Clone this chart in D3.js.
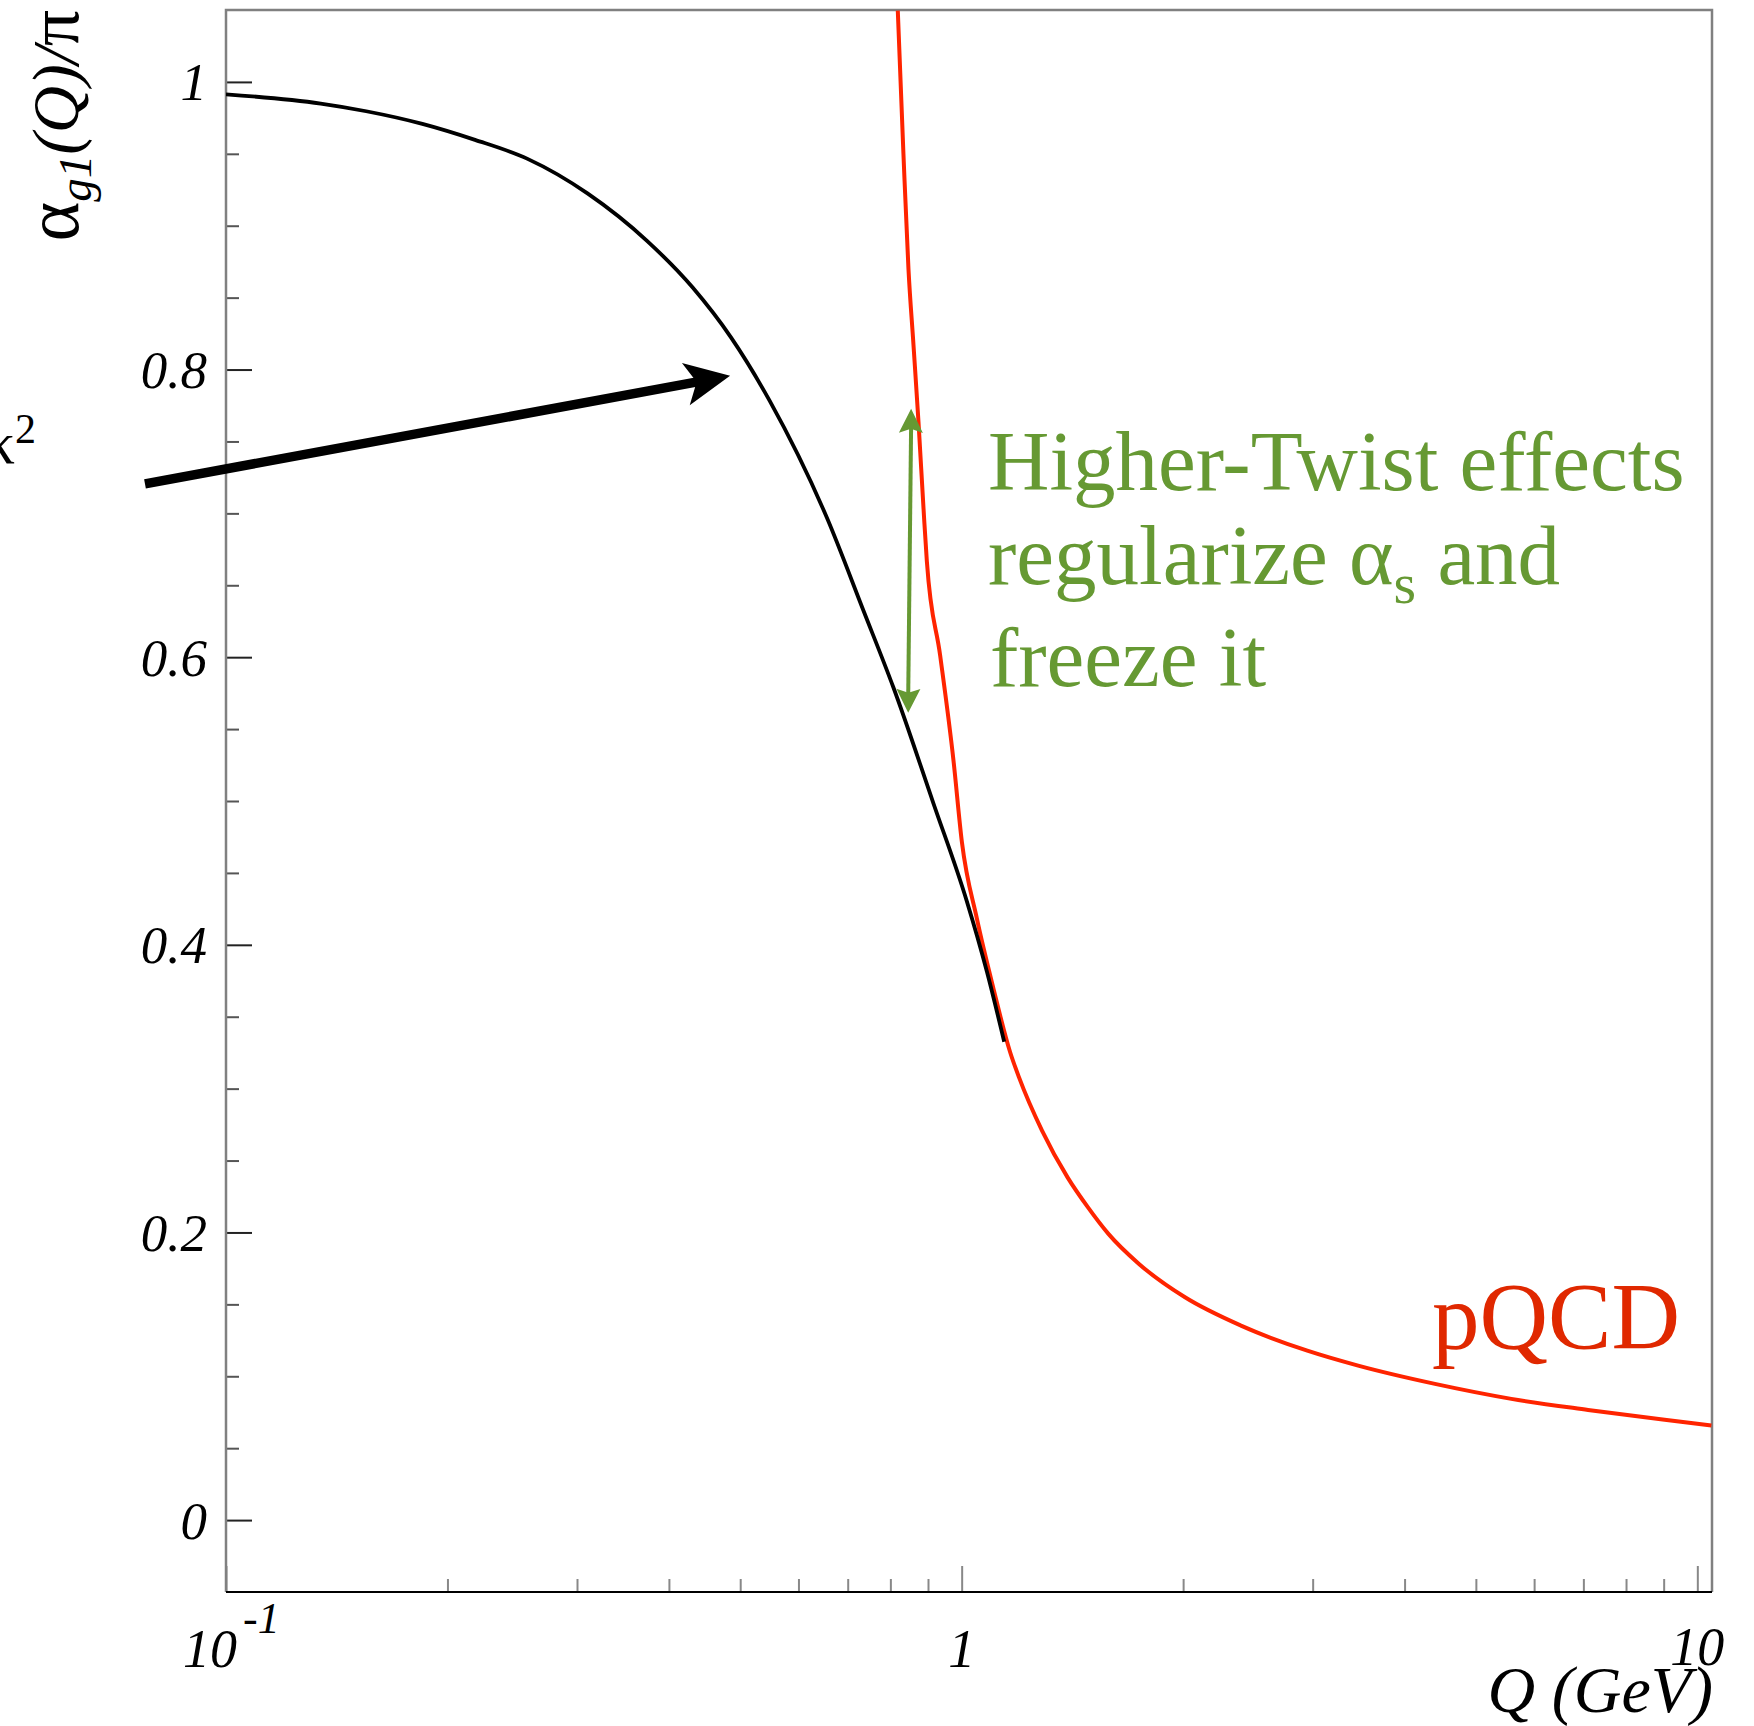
<!DOCTYPE html>
<html>
<head>
<meta charset="utf-8">
<script src="https://cdn.jsdelivr.net/npm/d3@7"></script>
<style>
body { margin: 0; background: #fff; }
svg { display: block; }
text { font-family: "Liberation Serif", "Times New Roman", serif; }
</style>
</head>
<body>
<div id="chart"></div>
<script>
// coupling: black = alpha_g1/pi, red = pQCD
var blackQ = [0.1, 0.1345, 0.1551, 0.1849, 0.218, 0.257, 0.310, 0.3735, 0.4309, 0.486, 0.5484, 0.6557, 0.7355, 0.8077, 0.9154, 1.0164, 1.0821, 1.1424]
var blackV = [0.9914, 0.9849, 0.9796, 0.9708, 0.9597, 0.9465, 0.9225, 0.8895, 0.857, 0.8222, 0.7782, 0.6971, 0.6323, 0.5789, 0.4984, 0.4302, 0.3814, 0.3326]

var redQ = [0.8188, 0.8334, 0.8466, 0.860, 0.8736, 0.889, 0.8968, 0.935, 0.9748, 1.0006, 1.0489, 1.1047, 1.1639, 1.1967, 1.286, 1.393, 1.485, 1.583, 1.742, 2.012, 2.397, 2.95, 3.459, 4.399, 5.587, 7.104, 9.028, 10.45]
var redV = [1.0496, 0.95, 0.87, 0.8172, 0.7636, 0.6969, 0.6667, 0.601, 0.528, 0.4717, 0.4181, 0.3695, 0.3253, 0.3078, 0.2708, 0.2383, 0.2174, 0.199, 0.1781, 0.1549, 0.1352, 0.1178, 0.1074, 0.0947, 0.0843, 0.0766, 0.0697, 0.0657]

var yTicks = [0, 0.2, 0.4, 0.6, 0.8, 1]
var yTickLabels = ["0", "0.2", "0.4", "0.6", "0.8", "1"]
var xTicks = [0.1, 1, 10]
var xTickLabels = ["10", "1", "10"]
var xTickExps = ["-1", "", ""]

var width = 1754, height = 1726
var margin = {top: 10, left: 226, right: 42, bottom: 134}
var chartWidth = width - margin.left - margin.right
var chartHeight = height - margin.top - margin.bottom

var green = "#669933"

var svg = d3.select("#chart").append("svg")
  .attr("width", width)
  .attr("height", height)

var x = d3.scaleLog().domain([0.1, 10.47]).range([0, chartWidth])
var y = d3.scaleLinear().domain([-0.05, 1.05]).range([chartHeight, 0])

var g = svg.append("g")
  .attr("transform", "translate(" + [margin.left, margin.top] + ")")

g.append("clipPath").attr("id", "clip")
  .append("rect").attr("width", chartWidth).attr("height", chartHeight)

// minor ticks
var yMinor = d3.range(-0.05, 1.051, 0.05).filter(function(v) {
  return v > -0.04 && v < 1.04 && Math.abs(v * 5 - Math.round(v * 5)) > 0.01
})
g.append("g")
  .call(d3.axisLeft(y).tickValues(yMinor).tickSize(-13).tickFormat(""))
  .call(function(s) { s.select(".domain").remove(); s.selectAll("line").attr("stroke", "#555").attr("stroke-width", 2) })

g.append("g")
  .call(d3.axisLeft(y).tickValues(yTicks).tickSize(-26).tickPadding(19)
    .tickFormat(function(d, i) { return yTickLabels[i] }))
  .call(function(s) {
    s.select(".domain").remove()
    s.selectAll("line").attr("stroke", "#222").attr("stroke-width", 2)
    s.selectAll("text").attr("font-family", "'Liberation Serif', serif")
      .attr("font-style", "italic").attr("font-size", 53).attr("fill", "#000")
      .attr("dy", "0.34em")
  })

var xMinor = []
;[0.1, 1].forEach(function(dec) {
  for (var k = 2; k <= 9; k++) xMinor.push(dec * k)
})
g.append("g")
  .attr("transform", "translate(0," + chartHeight + ")")
  .call(d3.axisBottom(x).tickValues(xMinor).tickSize(-13).tickFormat(""))
  .call(function(s) { s.select(".domain").remove(); s.selectAll("line").attr("stroke", "#888").attr("stroke-width", 2) })

g.append("g")
  .attr("transform", "translate(0," + chartHeight + ")")
  .call(d3.axisBottom(x).tickValues(xTicks).tickSize(-26).tickFormat(""))
  .call(function(s) { s.select(".domain").remove(); s.selectAll("line").attr("stroke", "#888").attr("stroke-width", 2) })

// x tick labels
xTicks.forEach(function(v, i) {
  var t = g.append("text")
    .attr("y", chartHeight + 75)
    .attr("font-style", "italic")
    .attr("font-size", 54)
  if (xTickExps[i]) {
    t.attr("x", x(v) - 43).attr("text-anchor", "start").text(xTickLabels[i])
    t.append("tspan").attr("dx", 6).attr("dy", -34).attr("font-size", 44).text(xTickExps[i])
  } else {
    t.attr("x", x(v)).attr("text-anchor", "middle").text(xTickLabels[i])
    if (v == 10) t.attr("y", chartHeight + 73)
  }
})

// frame
g.append("path")
  .attr("d", "M0," + chartHeight + "V0H" + chartWidth + "V" + chartHeight)
  .attr("fill", "none").attr("stroke", "#808080").attr("stroke-width", 2.5)
g.append("line")
  .attr("x1", 0).attr("x2", chartWidth).attr("y1", chartHeight).attr("y2", chartHeight)
  .attr("stroke", "#000").attr("stroke-width", 2)

// curves
var line = d3.line()
  .x(function(d) { return x(d[0]) })
  .y(function(d) { return y(d[1]) })
  .curve(d3.curveMonotoneX)

var plot = g.append("g").attr("clip-path", "url(#clip)")

plot.append("path")
  .datum(d3.zip(redQ, redV))
  .attr("d", line)
  .attr("fill", "none").attr("stroke", "#ff2400").attr("stroke-width", 4)

plot.append("path")
  .datum(d3.zip(blackQ, blackV))
  .attr("d", line)
  .attr("fill", "none").attr("stroke", "#000").attr("stroke-width", 3.8)

// black arrow pointing at the curve
function arrowHead(p0, p1, len, half, notch) {
  var dx = p1[0] - p0[0], dy = p1[1] - p0[1]
  var n = Math.sqrt(dx * dx + dy * dy)
  var ux = dx / n, uy = dy / n, px = -uy, py = ux
  function pt(u, w) { return [p1[0] + u * ux + w * px, p1[1] + u * uy + w * py] }
  var pts = [pt(0, 0), pt(-len, half), pt(-notch, 0), pt(-len, -half)]
  return "M" + pts.join("L") + "Z"
}

var a0 = [x(0.0776), y(0.7205)], a1 = [x(0.4844), y(0.7956)]
g.append("line")
  .attr("x1", a0[0]).attr("y1", a0[1])
  .attr("x2", a1[0] - 32 * (a1[0] - a0[0]) / 595).attr("y2", a1[1] - 32 * (a1[1] - a0[1]) / 595)
  .attr("stroke", "#000").attr("stroke-width", 9.5)
g.append("path").attr("d", arrowHead(a0, a1, 45, 21.5, 34)).attr("fill", "#000")

// green double arrow
var gTop = [x(0.8537), y(0.7727)], gBot = [x(0.8459), y(0.5613)]
g.append("line")
  .attr("x1", gTop[0]).attr("y1", gTop[1] + 15)
  .attr("x2", gBot[0]).attr("y2", gBot[1] - 15)
  .attr("stroke", green).attr("stroke-width", 4)
g.append("path").attr("d", arrowHead(gBot, gTop, 24, 12, 20)).attr("fill", green)
g.append("path").attr("d", arrowHead(gTop, gBot, 24, 12, 20)).attr("fill", green)

// annotation text
var note = svg.append("text")
  .attr("fill", green).attr("font-size", 85)
note.append("tspan").attr("x", 988).attr("y", 490).text("Higher-Twist effects")
note.append("tspan").attr("x", 988).attr("y", 584).text("regularize α")
note.append("tspan").attr("dy", 19).attr("font-size", 58).text("s")
note.append("tspan").attr("dy", -19).text(" and")
note.append("tspan").attr("x", 990).attr("y", 686).text("freeze it")

svg.append("text")
  .attr("x", 1432).attr("y", 1349)
  .attr("fill", "#e02800").attr("font-size", 95)
  .text("pQCD")

// axis titles
svg.append("text")
  .attr("x", 1713).attr("y", 1712)
  .attr("text-anchor", "end")
  .attr("font-style", "italic").attr("font-size", 66)
  .text("Q (GeV)")

var yt = svg.append("text")
  .attr("transform", "translate(78,10) rotate(-90)")
  .attr("text-anchor", "end")
  .attr("font-size", 65)
yt.append("tspan").attr("font-size", 76).text("α")
yt.append("tspan").attr("font-style", "italic").attr("font-size", 47).attr("dy", 13).text("g1")
yt.append("tspan").attr("font-style", "italic").attr("dy", -13).text("(Q)/")
yt.append("tspan").attr("font-size", 72).text("π")

// cut-off slide text at the left edge
var kt = svg.append("text")
  .attr("x", 36).attr("y", 463)
  .attr("text-anchor", "end")
  .attr("font-size", 60)
kt.append("tspan").text("κ")
kt.append("tspan").attr("font-size", 42).attr("dy", -20).text("2")
</script>
</body>
</html>
